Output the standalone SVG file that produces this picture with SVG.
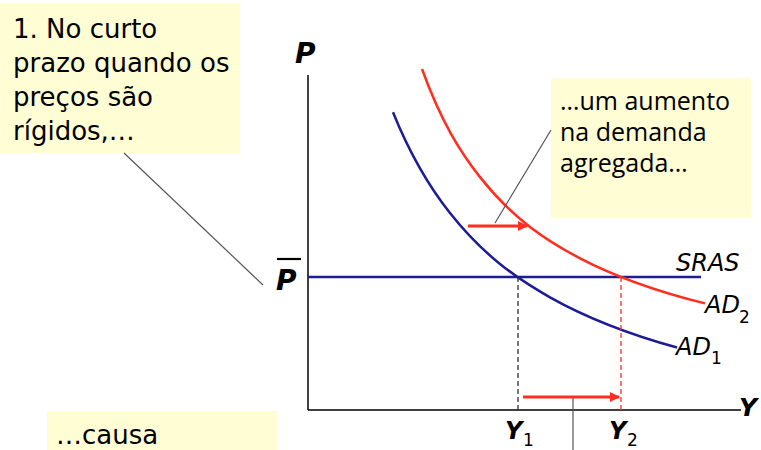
<svg xmlns="http://www.w3.org/2000/svg" width="761" height="450" viewBox="0 0 761 450">
<style>
.box{fill:#FFFDD4;stroke:none}
.t1{font-family:"DejaVu Sans",Verdana,sans-serif;font-size:26px;fill:#000}
.t2{font-family:"Open Sans","Liberation Sans",sans-serif;font-size:25px;fill:#000}
.lab{font-family:"DejaVu Sans",Verdana,sans-serif;font-size:24px;font-style:italic;fill:#000}
.sub{font-family:"DejaVu Sans",Verdana,sans-serif;font-size:17px;fill:#000}
.bl{font-family:"DejaVu Sans",Verdana,sans-serif;font-weight:bold;font-style:italic;fill:#000}
.axis{stroke:#000;stroke-width:1.5;fill:none}
.blue{stroke:#1C1C96;stroke-width:2.5;fill:none}
.red{stroke:#FF2E1F;stroke-width:2.5;fill:none}
.call{stroke:#555;stroke-width:1.2;fill:none}
.shift{stroke:#FF2E1F;stroke-width:3;fill:none}
</style>
<defs>
<marker id="ah" viewBox="0 0 10 10" refX="9" refY="5" markerWidth="3.4" markerHeight="3.4" orient="auto" markerUnits="strokeWidth">
<path d="M0,0 L10,5 L0,10 z" fill="#FF2E1F"/>
</marker>
</defs>

<g id="axes">
<line class="axis" x1="308" y1="75" x2="308" y2="410"/>
<line class="axis" x1="308" y1="410" x2="741" y2="410"/>
<text class="bl" x="295" y="63" font-size="28">P</text>
<text class="bl" x="739" y="416" font-size="25">Y</text>
<line x1="277" y1="259" x2="301" y2="259" stroke="#000" stroke-width="2.2"/>
<text class="bl" x="276" y="290" font-size="28">P</text>
</g>

<g id="sras">
<line class="blue" x1="308" y1="277" x2="701" y2="277"/>
<text class="lab" x="676" y="271">SRAS</text>
</g>

<g id="ad1">
<path class="blue" d="M393,112.2 C412,159.2 431,189 450,213 C483.3,255.2 516.7,278.6 550,297.3 C592.3,321.1 634.7,335.8 677,347.5"/>
<text class="lab" x="676" y="355">AD</text>
<text class="sub" x="711" y="364">1</text>
</g>

<g id="ad2">
<path class="red" d="M422,69 C441.3,122.2 460.7,152.7 480,177.1 C513.3,219.2 546.7,240.9 580,258.3 C621.7,280.05 663.3,293 705,303.4"/>
<text class="lab" x="705" y="313">AD</text>
<text class="sub" x="739" y="323">2</text>
</g>

<g id="y1">
<line x1="518" y1="277" x2="518" y2="410" stroke="#333" stroke-width="1.3" stroke-dasharray="5,3"/>
<text class="bl" x="505" y="439" font-size="24">Y</text>
<text class="sub" x="523" y="446">1</text>
</g>

<g id="y2">
<line x1="621" y1="277" x2="621" y2="410" stroke="#FF2E1F" stroke-width="1.3" stroke-dasharray="5,3"/>
<text class="bl" x="609" y="439" font-size="24">Y</text>
<text class="sub" x="627" y="446">2</text>
</g>

<g id="box1">
<rect class="box" x="0" y="3" width="240" height="150"/>
<text class="t1" x="13" y="38">1. No curto</text>
<text class="t1" x="13" y="72">prazo quando os</text>
<text class="t1" x="13" y="106">preços são</text>
<text class="t1" x="13" y="140">rígidos,…</text>
</g>

<g id="box2">
<rect class="box" x="551" y="78" width="200" height="140"/>
<text class="t2" x="560" y="110">…um aumento</text>
<text class="t2" x="560" y="141">na demanda</text>
<text class="t2" x="560" y="172">agregada…</text>
</g>

<g id="box3">
<rect class="box" x="47" y="411" width="230" height="39"/>
<text class="t1" x="56" y="444">…causa</text>
</g>

<g id="connectors">
<line class="call" x1="124" y1="153" x2="263" y2="285"/>
<line class="call" x1="551" y1="130" x2="495" y2="223"/>
<line class="call" x1="573" y1="397" x2="573" y2="450"/>
<line class="shift" x1="468" y1="226" x2="527" y2="226" marker-end="url(#ah)"/>
<line class="shift" x1="523" y1="397" x2="619" y2="397" marker-end="url(#ah)"/>
</g>
</svg>
